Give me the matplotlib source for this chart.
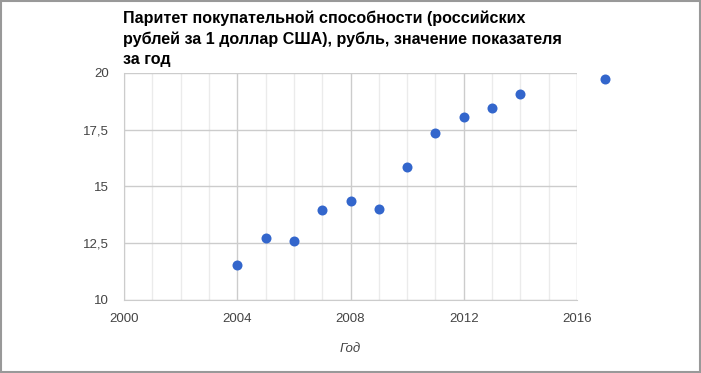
import matplotlib
matplotlib.use("Agg")
from matplotlib import pyplot as plt
from matplotlib.patches import Rectangle
from matplotlib.ticker import FuncFormatter, MultipleLocator

years = [2004, 2005, 2006, 2007, 2008, 2009, 2010, 2011, 2012, 2013, 2014, 2017]
ppp = [11.54, 12.74, 12.61, 13.97, 14.34, 14.02, 15.84, 17.35, 18.05, 18.45, 19.08, 19.75]

title = "Паритет покупательной способности (российских\nрублей за 1 доллар США), рубль, значение показателя\nза год"
x_label = "Год"

plt.rcParams['font.family'] = ['Liberation Sans', 'DejaVu Sans']

fig = plt.figure(figsize=(7.01, 3.73), dpi=100)
ax = fig.add_axes([124/701, 1 - 300/373, (577 - 124)/701, (300 - 73)/373])

ax.set_xlim(2000, 2016)
ax.set_ylim(10, 20)

ax.xaxis.set_major_locator(MultipleLocator(4))
ax.xaxis.set_minor_locator(MultipleLocator(1))
ax.yaxis.set_major_locator(MultipleLocator(2.5))
ax.yaxis.set_major_formatter(FuncFormatter(lambda v, p: f"{v:g}".replace('.', ',')))

ax.grid(which='major', color='#cccccc', linewidth=1)
ax.grid(which='minor', axis='x', color='#ebebeb', linewidth=1)
ax.set_axisbelow(True)

for s in ['top', 'right']:
    ax.spines[s].set_visible(False)
ax.spines['left'].set_color('#cccccc')
ax.spines['bottom'].set_color('#cccccc')

ax.tick_params(which='both', length=0)
ax.tick_params(axis='x', pad=9, labelsize=9.5, labelcolor='#444444')
ax.tick_params(axis='y', pad=11, labelsize=9.5, labelcolor='#444444')

ax.scatter(years, ppp, s=52, color='#3366cc', zorder=3, clip_on=False, linewidths=0)

ax.set_xlabel(x_label, style='italic', color='#444444', fontsize=9.5, labelpad=13)

fig.text(123/701, 1 - 11/373, title, ha='left', va='top', fontsize=11.6,
         fontweight='bold', color='#000000', linespacing=1.4)

fig.patches.append(Rectangle((0.5/701, 1/373), 699/701, 371/373, transform=fig.transFigure,
                             fill=False, edgecolor='#999999', linewidth=1.5))

fig.savefig("out.png", dpi=100)
